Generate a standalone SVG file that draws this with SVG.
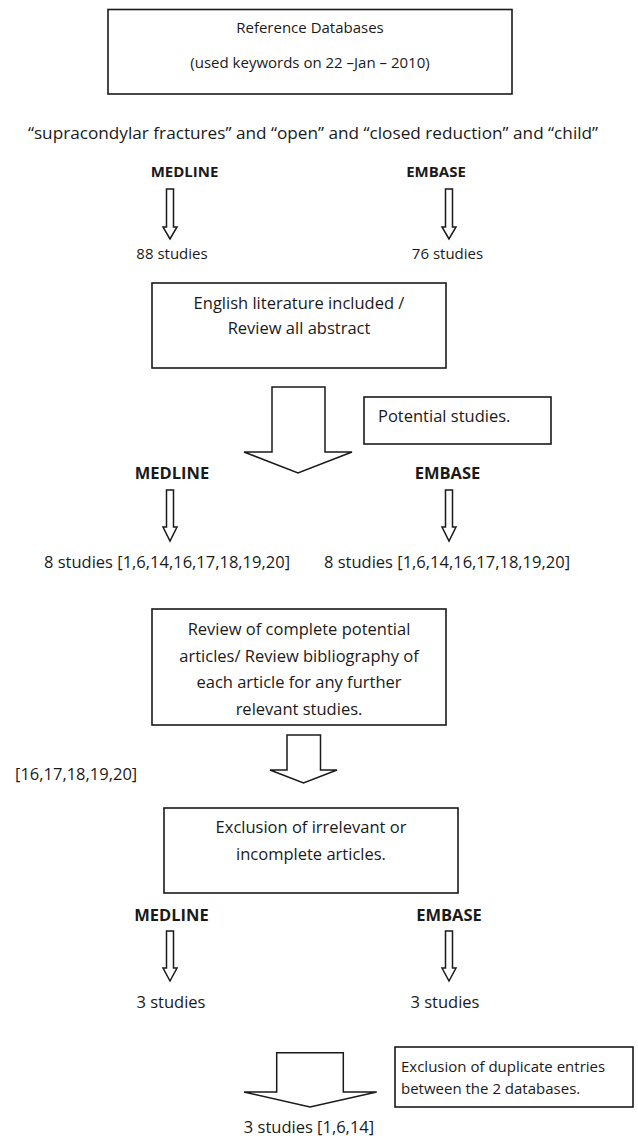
<svg xmlns="http://www.w3.org/2000/svg" width="638" height="1144" viewBox="0 0 638 1144">
<style>
text{font-family:"Open Sans","Liberation Sans",sans-serif;fill:#1a1a1a}
.s15{font-size:15px}
.s16{font-size:16.5px}
.s17{font-size:17.2px}
.b{font-weight:bold}
.m{text-anchor:middle}
.box{fill:#fff;stroke:#1a1a1a;stroke-width:1.6}
.arr{fill:#fff;stroke:#1a1a1a;stroke-width:1.5;stroke-linejoin:miter}
</style>
<rect width="638" height="1144" fill="#fff"/>
<g id="ref-databases">
<rect class="box" x="108" y="9.5" width="404" height="84.5"/>
<text class="s15 m" x="310" y="33">Reference Databases</text>
<text class="s15 m" x="310" y="68">(used keywords on 22 –Jan – 2010)</text>
</g>
<g id="keywords">
<text class="s17 m" x="313" y="139">“supracondylar fractures” and “open” and “closed reduction” and “child”</text>
</g>
<g id="medline1"><text class="s15 b m" x="184.5" y="177">MEDLINE</text></g>
<g id="embase1"><text class="s15 b m" x="436" y="177">EMBASE</text></g>
<g id="studies88"><text class="s15 m" x="172" y="259">88 studies</text></g>
<g id="studies76"><text class="s15 m" x="447.5" y="259">76 studies</text></g>
<g id="english-box">
<rect class="box" x="152" y="283" width="294" height="85"/>
<text class="s16 m" x="299" y="309">English literature included /</text>
<text class="s16 m" x="299" y="334">Review all abstract</text>
</g>
<g id="potential-box">
<rect class="box" x="364" y="397" width="187" height="47"/>
<text class="s16" x="378" y="422">Potential studies.</text>
</g>
<g id="medline2"><text class="s16 b m" x="172" y="479">MEDLINE</text></g>
<g id="embase2"><text class="s16 b m" x="447.5" y="479">EMBASE</text></g>
<g id="studies8-medline"><text class="s16" x="44" y="568">8 studies [1,6,14,16,17,18,19,20]</text></g>
<g id="studies8-embase"><text class="s16" x="324" y="568">8 studies [1,6,14,16,17,18,19,20]</text></g>
<g id="review-box">
<rect class="box" x="152" y="609" width="294" height="116"/>
<text class="s16 m" x="299" y="635">Review of complete potential</text>
<text class="s16 m" x="299" y="662">articles/ Review bibliography of</text>
<text class="s16 m" x="299" y="688">each article for any further</text>
<text class="s16 m" x="299" y="715">relevant studies.</text>
</g>
<g id="refs-label"><text class="s16" x="15" y="780">[16,17,18,19,20]</text></g>
<g id="exclusion-box">
<rect class="box" x="164" y="808" width="294" height="85"/>
<text class="s16 m" x="311" y="833">Exclusion of irrelevant or</text>
<text class="s16 m" x="311" y="860">incomplete articles.</text>
</g>
<g id="medline3"><text class="s16 b m" x="171.5" y="921">MEDLINE</text></g>
<g id="embase3"><text class="s16 b m" x="449" y="921">EMBASE</text></g>
<g id="studies3-medline"><text class="s16 m" x="171" y="1008">3 studies</text></g>
<g id="studies3-embase"><text class="s16 m" x="445" y="1008">3 studies</text></g>
<g id="duplicate-box">
<rect class="box" x="395" y="1047" width="238" height="60"/>
<text class="s15" x="401" y="1072">Exclusion of duplicate entries</text>
<text class="s15" x="401" y="1094">between the 2 databases.</text>
</g>
<g id="final"><text class="s16 m" x="309" y="1133">3 studies [1,6,14]</text></g>
<g id="connectors">
<polygon class="arr" points="166.5,189 173.5,189 173.5,227 177,227 170,239 163,227 166.5,227"/>
<polygon class="arr" points="445.5,189 452.5,189 452.5,227 456,227 449,239 442,227 445.5,227"/>
<polygon class="arr" points="272,387 325,387 325,452 352,452 298,473 244,452 272,452"/>
<polygon class="arr" points="166.5,490 173.5,490 173.5,527 177,527 170,541 163,527 166.5,527"/>
<polygon class="arr" points="445.5,490 452.5,490 452.5,527 456,527 449,541 442,527 445.5,527"/>
<polygon class="arr" points="287,735 320.5,735 320.5,770 337,770 303.5,783 270,770 287,770"/>
<polygon class="arr" points="166.5,931 173.5,931 173.5,968 177,968 170,981 163,968 166.5,968"/>
<polygon class="arr" points="445.5,931 452.5,931 452.5,968 456,968 449,981 442,968 445.5,968"/>
<polygon class="arr" points="276.7,1052.7 343.3,1052.7 343.3,1092 376.7,1092 310,1107 244,1092 276.7,1092"/>
</g>
</svg>
